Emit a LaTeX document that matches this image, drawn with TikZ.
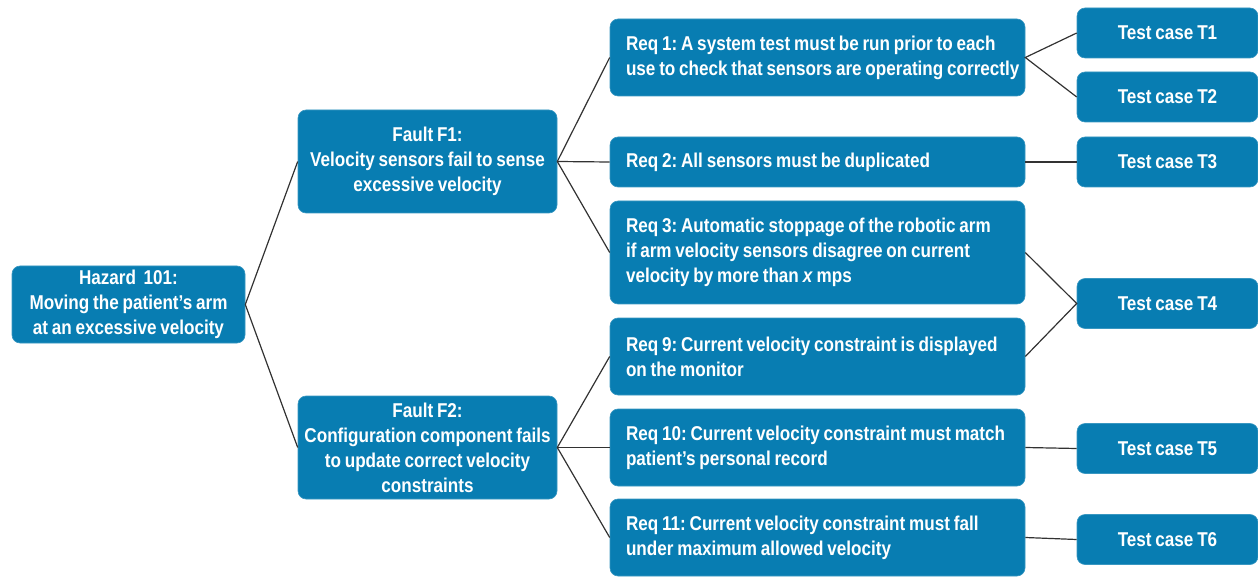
\documentclass[tikz,border=0pt]{standalone}
\usepackage{fontspec}
\setmainfont{Liberation Sans}[FakeStretch=0.855, WordSpace=0.8]
\definecolor{boxblue}{RGB}{8,125,178}
\definecolor{linegray}{RGB}{50,50,50}
\begin{document}
\frenchspacing
\hfuzz=20pt
\begin{tikzpicture}[x=1pt,y=-1pt,
  box/.style={draw=boxblue!80!white, line width=0.6pt, fill=boxblue, rounded corners=8pt, text=white,
    font=\fontsize{20}{25}\selectfont\bfseries, inner sep=0pt, align=center},
  reqbox/.style={box, minimum width=415pt, text width=383pt, inner xsep=16pt, align=flush left},
  testbox/.style={box, minimum width=181pt, minimum height=50pt},
  link/.style={draw=linegray, line width=1.2pt}]
\useasboundingbox (0,0) rectangle (1258,577);
\node[box, minimum width=233pt, minimum height=77pt] (hz) at (128.5,304.5)
  {Hazard\ \ 101:\\Moving the patient’s arm\\at an excessive velocity};
\node[box, minimum width=259pt, minimum height=103pt] (f1) at (427.5,161.5)
  {Fault F1:\\Velocity sensors fail to sense\\excessive velocity};
\node[box, minimum width=259pt, minimum height=103pt] (f2) at (427.5,447.5)
  {Fault F2:\\Configuration component fails\\to update correct velocity\\constraints};
\node[reqbox, minimum height=77pt] (r1) at (817.5,57.5)
  {\mbox{Req 1: A system test must be run prior to each}\\\mbox{use to check that sensors are operating correctly}};
\node[reqbox, minimum height=50pt] (r2) at (817.5,162)
  {Req 2: All sensors must be duplicated};
\node[reqbox, minimum height=103pt] (r3) at (817.5,252.5)
  {Req 3: Automatic stoppage of the robotic arm\\if arm velocity sensors disagree on current\\velocity by more than \textit{x} mps};
\node[reqbox, minimum height=77pt] (r9) at (817.5,356.5)
  {Req 9: Current velocity constraint is displayed\\on the monitor};
\node[reqbox, minimum height=77pt] (r10) at (817.5,447.5)
  {\mbox{Req 10: Current velocity constraint must match}\\patient’s personal record};
\node[reqbox, minimum height=77pt] (r11) at (817.5,537.5)
  {Req 11: Current velocity constraint must fall\\under maximum allowed velocity};
\node[testbox] (t1) at (1167.5,33) {Test case T1};
\node[testbox] (t2) at (1167.5,97) {Test case T2};
\node[testbox] (t3) at (1167.5,162) {Test case T3};
\node[testbox] (t4) at (1167.5,303.5) {Test case T4};
\node[testbox] (t5) at (1167.5,448.5) {Test case T5};
\node[testbox] (t6) at (1167.5,539.5) {Test case T6};
\draw[link] (f1.west) -- (hz.east) -- (f2.west);
\draw[link] (r1.west) -- (f1.east) -- (r3.west);
\draw[link] (f1.east) -- (r2.west);
\draw[link] (r9.west) -- (f2.east) -- (r11.west);
\draw[link] (f2.east) -- (r10.west);
\draw[link] (t1.west) -- (r1.east) -- (t2.west);
\draw[link] (r2.east) -- (t3.west);
\draw[link] (r3.east) -- (t4.west) -- (r9.east);
\draw[link] (r10.east) -- (t5.west);
\draw[link] (r11.east) -- (t6.west);
\end{tikzpicture}
\end{document}
